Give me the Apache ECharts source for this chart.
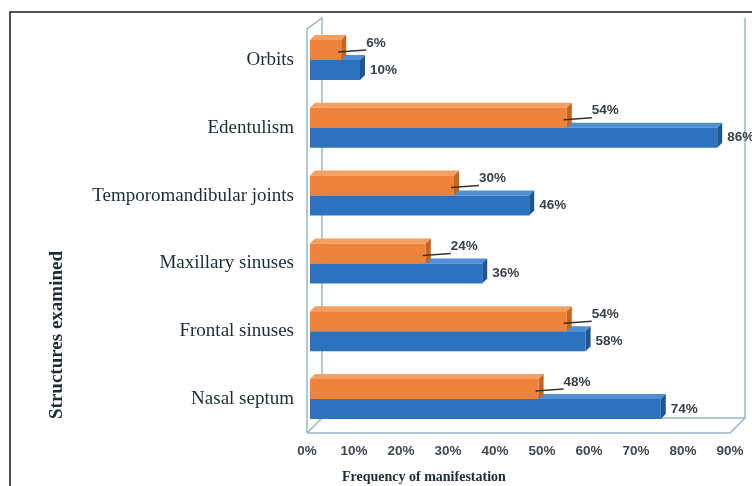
<!DOCTYPE html>
<html>
<head>
<meta charset="utf-8">
<script src="https://cdn.jsdelivr.net/npm/echarts@6/dist/echarts.min.js"></script>
<style>
html,body{margin:0;padding:0;background:#fff;}
#c{width:752px;height:486px;}
</style>
</head>
<body>
<div id="c"></div>
<script>
// ---- data ----
const categories = ['Orbits', 'Edentulism', 'Temporomandibular joints', 'Maxillary sinuses', 'Frontal sinuses', 'Nasal septum'];
const orangeValues = [6, 54, 30, 24, 54, 48];
const blueValues = [10, 86, 46, 36, 58, 74];
const xTickMax = 90;
const xTickStep = 10;

const chart = echarts.init(document.getElementById('c'));

const ORANGE = {front: '#F0833A', top: '#F5A062', side: '#C9641F'};
const BLUE = {front: '#2C72BE', top: '#4F8FD2', side: '#1E5694'};
const LABEL_FONT = 'bold 13.5px "Liberation Sans", Arial, sans-serif';

function boxRender(isOrange) {
  return function (params, api) {
    const v = api.value(0);
    const cat = api.value(1);
    const p0 = api.coord([0, cat]);
    const p1 = api.coord([v, cat]);
    const band = api.size([0, 1])[1];
    const h = band * 0.295;
    const d = 5;
    const xs = p0[0] + 3;
    const xe = p1[0] + 6;
    let yTop, yBot;
    if (isOrange) { yBot = p0[1]; yTop = yBot - h; } else { yTop = p0[1]; yBot = yTop + h; }
    const col = isOrange ? ORANGE : BLUE;
    const children = [
      {type: 'polygon', shape: {points: [[xs, yTop], [xs + d, yTop - d], [xe + d, yTop - d], [xe, yTop]]}, style: {fill: col.top}},
      {type: 'polygon', shape: {points: [[xe, yTop], [xe + d, yTop - d], [xe + d, yBot - d], [xe, yBot]]}, style: {fill: col.side}},
      {type: 'rect', shape: {x: xs, y: yTop, width: xe - xs, height: h}, style: {fill: col.front}}
    ];
    const txt = v + '%';
    if (isOrange) {
      children.push({type: 'line', shape: {x1: xe - 3, y1: yBot - 8, x2: xe + 25, y2: yBot - 10}, style: {stroke: '#333333', lineWidth: 1.5}});
      children.push({type: 'text', x: xe + 25, y: yBot - 17, style: {text: txt, font: LABEL_FONT, fill: '#3a4048', align: 'left', verticalAlign: 'middle'}});
    } else {
      children.push({type: 'text', x: xe + 10, y: yTop + 10, style: {text: txt, font: LABEL_FONT, fill: '#3a4048', align: 'left', verticalAlign: 'middle'}});
    }
    return {type: 'group', children: children};
  };
}

function wallRender(params, api) {
  const n = categories.length;
  const c0 = api.coord([0, 0]);
  const cN = api.coord([xTickMax, n - 1]);
  const band = api.size([0, 1])[1];
  const x0 = c0[0], x1 = cN[0];
  const yT = c0[1] - band / 2, yB = cN[1] + band / 2;
  const D = 15;
  const st = {stroke: '#9bb6c9', lineWidth: 1.5, fill: null};
  const L = (pts) => ({type: 'polyline', shape: {points: pts}, style: st});
  return {type: 'group', children: [
    L([[x0, yB], [x0, yT + 3], [x0 + D, yT - 8], [x0 + D, yB - D]]),
    L([[x0, yB], [x0 + D, yB - D], [x1 + D, yB - D], [x1 + D, yT - 8]]),
    L([[x0, yB], [x1, yB], [x1 + D, yB - D]])
  ]};
}

const option = {
  backgroundColor: '#ffffff',
  animation: false,
  title: {
    text: 'Frequency of manifestation',
    left: 337, top: 465,
    textStyle: {fontFamily: '"Liberation Serif", "Times New Roman", serif', fontWeight: 'bold', fontSize: 14, color: '#1c2b3a'}
  },
  graphic: [
    {type: 'polyline', shape: {points: [[10, 486], [10, 12], [752, 12]]}, style: {stroke: '#1a1a1a', lineWidth: 1.5, fill: null}},
    {type: 'text', x: 57, y: 335, rotation: Math.PI / 2,
     style: {text: 'Structures examined', font: 'bold 19px "Liberation Serif", "Times New Roman", serif', fill: '#1c2b3a', align: 'center', verticalAlign: 'middle'}}
  ],
  grid: {left: 307, right: 22, top: 26, bottom: 53},
  xAxis: {
    type: 'value', min: 0, max: xTickMax, interval: xTickStep,
    axisLine: {show: false}, axisTick: {show: false}, splitLine: {show: false},
    axisLabel: {formatter: '{value}%', margin: 11, color: '#3f4852', fontFamily: '"Liberation Sans", Arial, sans-serif', fontWeight: 'bold', fontSize: 13.5}
  },
  yAxis: {
    type: 'category', data: categories, inverse: true,
    axisLine: {show: false}, axisTick: {show: false},
    axisLabel: {margin: 13, color: '#1c2b3a', fontFamily: '"Liberation Serif", "Times New Roman", serif', fontSize: 19}
  },
  series: [
    {type: 'custom', name: 'walls', renderItem: wallRender, data: [[0, 0]], encode: {x: 0, y: 1}, silent: true, z: 1},
    {type: 'custom', name: 'Blue', renderItem: boxRender(false), data: blueValues.map((v, i) => [v, i]), encode: {x: 0, y: 1}, z: 2},
    {type: 'custom', name: 'Orange', renderItem: boxRender(true), data: orangeValues.map((v, i) => [v, i]), encode: {x: 0, y: 1}, z: 3}
  ]
};
chart.setOption(option);
</script>
</body>
</html>
